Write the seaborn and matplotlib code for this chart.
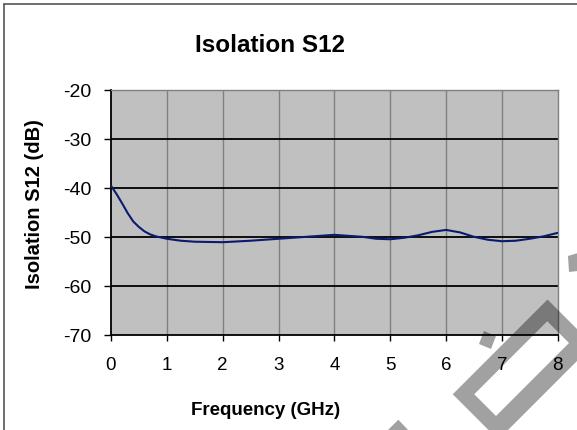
import numpy as np
import pandas as pd
import matplotlib
matplotlib.use("Agg")
import matplotlib.pyplot as plt
import seaborn as sns
from matplotlib.path import Path
from matplotlib.patches import PathPatch, Polygon
from matplotlib.lines import Line2D

# ---- data ----
freq_ghz = [0.0, 0.1, 0.2, 0.3, 0.4, 0.5, 0.6, 0.7, 0.8, 1.0, 1.25, 1.5, 2.0, 2.5,
            3.0, 3.5, 4.0, 4.25, 4.5, 4.75, 5.0, 5.25, 5.5, 5.75, 6.0, 6.25, 6.5,
            6.75, 7.0, 7.25, 7.5, 7.75, 8.0]
s12_db = [-39.6, -41.3, -43.2, -45.2, -46.9, -48.0, -48.9, -49.5, -49.9, -50.4, -50.8,
          -51.0, -51.1, -50.8, -50.4, -50.0, -49.6, -49.8, -50.0, -50.4, -50.5, -50.2,
          -49.7, -49.0, -48.6, -49.1, -50.0, -50.6, -50.9, -50.8, -50.4, -49.9, -49.2]
x_ticks = [0, 1, 2, 3, 4, 5, 6, 7, 8]
y_ticks = [-70, -60, -50, -40, -30, -20]

title_text = "Isolation S12"
x_label = "Frequency (GHz)"
y_label = "Isolation S12 (dB)"

df = pd.DataFrame({"freq": freq_ghz, "s12": s12_db})

sns.set_style("white", {"axes.facecolor": "#c0c0c0"})
plt.rcParams["font.family"] = ["Liberation Sans", "DejaVu Sans"]

W, H = 577, 431
fig = plt.figure(figsize=(W / 100, H / 100), dpi=100)
fig.patch.set_facecolor("white")

x0, x1 = 111, 557.7
y_top, y_bot = 90.5, 336
ax = fig.add_axes([x0 / W, 1 - y_bot / H, (x1 - x0) / W, (y_bot - y_top) / H])
ax.set_facecolor("#c0c0c0")

sns.lineplot(data=df, x="freq", y="s12", ax=ax, color="#0a1a70", linewidth=1.5,
             zorder=5, sort=False)

ax.set_xlim(0, 8)
ax.set_ylim(-70, -20)
ax.set_xticks(x_ticks)
ax.set_yticks(y_ticks)
ax.set_xticklabels([str(v) for v in x_ticks])
ax.set_yticklabels([str(v) for v in y_ticks])
ax.set_xlabel("")
ax.set_ylabel("")

# grid lines: black horizontal, gray vertical
for yv in y_ticks[1:-1]:
    ax.axhline(yv, color="black", linewidth=1.3, zorder=2)
for xv in x_ticks[1:-1]:
    ax.axvline(xv, color="#808080", linewidth=1.0, zorder=1)

for side in ["left", "bottom"]:
    ax.spines[side].set_color("black")
    ax.spines[side].set_linewidth(1.3)
    ax.spines[side].set_visible(True)
for side in ["top", "right"]:
    ax.spines[side].set_color("#808080")
    ax.spines[side].set_linewidth(1.0)
    ax.spines[side].set_visible(True)

ax.tick_params(axis="x", direction="out", length=4.2, width=1.0, color="black",
               pad=11, labelsize=13.5, labelcolor="black", bottom=True)
ax.tick_params(axis="y", direction="out", length=5, width=1.0, color="black",
               pad=9, labelsize=14, labelcolor="black", left=True)

# titles / labels
fig.text(270 / W, 1 - 45 / H, title_text, ha="center", va="center",
         fontsize=17.5, fontweight="bold", color="black")
fig.text(265.5 / W, 1 - 411 / H, x_label, ha="center", va="center",
         fontsize=13.5, fontweight="bold", color="black")
fig.text(35 / W, 1 - 204 / H, y_label, ha="center", va="center", rotation=90,
         fontsize=14.5, fontweight="bold", color="black")

# chart border (left and top visible)
def P(x, y):
    return (x / W, 1 - y / H)

fig.add_artist(Line2D([4 / W, 4 / W], [1 - 4.5 / H, 0], transform=fig.transFigure,
                      color="#555555", linewidth=1.2))
fig.add_artist(Line2D([4 / W, 1], [1 - 4.5 / H, 1 - 4.5 / H], transform=fig.transFigure,
                      color="#555555", linewidth=1.2))

# watermark stamp fragment (semi-transparent)
wm_color = (0, 0, 0, 0.37)
outer = [(452.75, 395.25), (547.5, 300.5), (593, 346), (498.25, 440.75)]
inner = [(474.25, 395.25), (496, 417), (569, 344), (547.25, 322.25)]
verts = [P(*p) for p in outer] + [P(*outer[0])] + [P(*p) for p in inner] + [P(*inner[0])]
codes = ([Path.MOVETO] + [Path.LINETO] * 3 + [Path.CLOSEPOLY]) * 2
fig.add_artist(PathPatch(Path(verts, codes), transform=fig.transFigure,
                         facecolor=wm_color, edgecolor="none", zorder=10))
tab = [(484, 332), (496, 337), (491, 350), (479, 345)]
fig.add_artist(Polygon([P(*p) for p in tab], closed=True, transform=fig.transFigure,
                       facecolor=wm_color, edgecolor="none", zorder=10))
tri = [(386, 433), (398.3, 420.7), (410, 433)]
fig.add_artist(Polygon([P(*p) for p in tri], closed=True, transform=fig.transFigure,
                       facecolor=wm_color, edgecolor="none", zorder=10))
sq = [(568, 257), (578, 254), (578, 272), (569, 273)]
fig.add_artist(Polygon([P(*p) for p in sq], closed=True, transform=fig.transFigure,
                       facecolor=wm_color, edgecolor="none", zorder=10))

fig.savefig("out.png", dpi=100)
